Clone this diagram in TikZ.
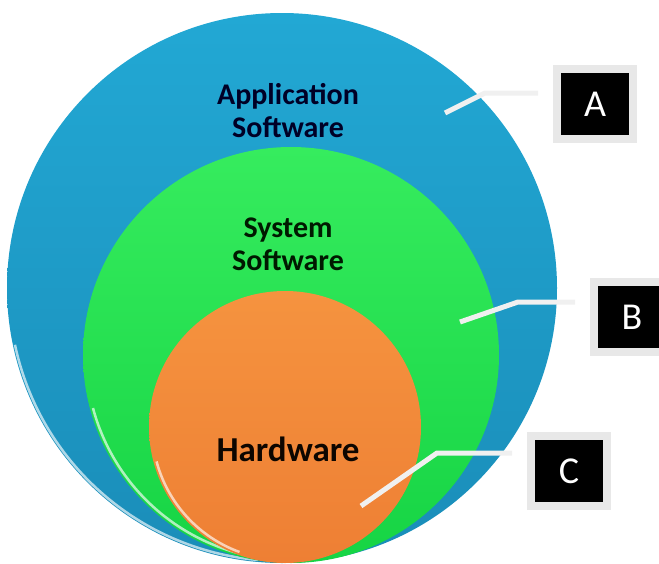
\documentclass[tikz,border=0pt]{standalone}
\usepackage{fontspec}
\setmainfont{Carlito}
\usetikzlibrary{positioning}

\definecolor{appblue}{HTML}{1A8DB9}
\definecolor{appbluelight}{HTML}{22A8D4}
\definecolor{sysgreen}{HTML}{16D444}
\definecolor{sysgreenlight}{HTML}{36EC5E}
\definecolor{hworange}{HTML}{EE7F34}
\definecolor{hworangelight}{HTML}{F5933F}

\begin{document}
\begin{tikzpicture}[x=1pt,y=-1pt,
    ring/.style={circle, inner sep=0pt},
    rim/.style={white, opacity=.65, line width=2.5pt},
    layertext/.style={align=center, font=\bfseries\fontsize{30}{33}\selectfont},
    tagbox/.style={fill=black, draw=gray!18, line width=8pt, minimum width=76pt, minimum height=70pt,
        text=white, font=\fontsize{38}{40}\selectfont},
    leader/.style={draw=gray!12, line width=5pt, shorten >=15pt}
    ]
    \useasboundingbox (0,0) rectangle (659,563);
    %Layers
        \node[ring, minimum size=550pt, top color=appbluelight, bottom color=appblue] (app) at (282,288) {};
        \draw[rim] (app.center) ++(168:273) arc[start angle=168, end angle=95, radius=273];
        \node[ring, minimum size=416pt, top color=sysgreenlight, bottom color=sysgreen] (sys) at (291,355) {};
        \draw[rim] (sys.center) ++(165:205) arc[start angle=165, end angle=100, radius=205];
        \node[ring, minimum size=272pt, top color=hworangelight, bottom color=hworange] (hw) at (285,427) {};
        \draw[rim] (hw.center) ++(165:133) arc[start angle=165, end angle=110, radius=133];
    %Texts
        \node[layertext, text=black!85!blue] (apptext) at (288,111) {Application\\Software};
        \node[layertext, text=black!90!green] (systext) at (288,244) {System\\Software};
        \node[layertext, font=\bfseries\fontsize{35}{38}\selectfont, text=black!95!orange] (hwtext) at (288,449) {Hardware};
    %Tags
        \node[tagbox] (boxA) at (595,104) {A};
        \node[tagbox] (boxB) at (632,317) {B};
        \node[tagbox] (boxC) at (569,471) {C};
    %Leaders
        \coordinate (pA) at (445,113);
        \coordinate (kA) at (485,93);
        \coordinate (pB) at (460,322);
        \coordinate (kB) at (518,302);
        \coordinate (pC) at (361,506);
        \coordinate (kC) at (437,453);
        \draw[leader] (pA) -- (kA) -- (kA -| boxA.west);
        \draw[leader] (pB) -- (kB) -- (kB -| boxB.west);
        \draw[leader] (pC) -- (kC) -- (kC -| boxC.west);
\end{tikzpicture}
\end{document}
